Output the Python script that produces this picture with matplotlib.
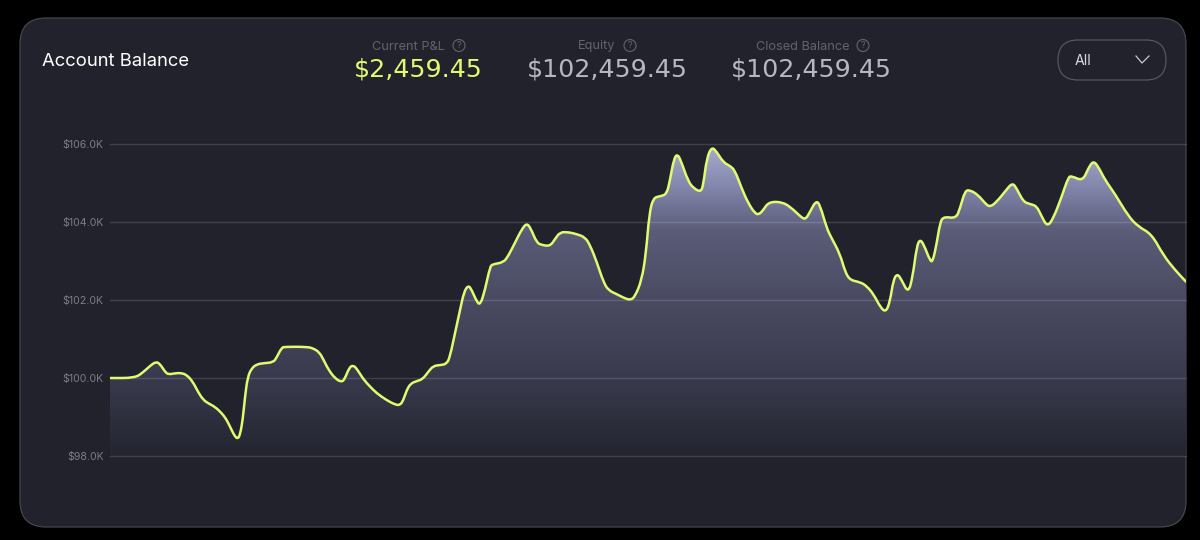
import matplotlib
matplotlib.use('Agg')
import matplotlib.pyplot as plt
import numpy as np
from matplotlib.colors import LinearSegmentedColormap
from matplotlib.patches import Circle, FancyBboxPatch, PathPatch
from matplotlib.path import Path

plt.rcParams['font.family'] = ['Inter', 'DejaVu Sans']

# values, balance in thousands of dollars
steps = [
    0, 25, 33.3, 40, 46, 50, 55, 58.3, 65, 71, 76.7, 82.7, 88.3, 93.3, 98.3, 105, 111.7, 116.7,
    121.7, 125, 127.7, 130, 132.7, 135, 137.7, 141.7, 146.7, 153.3, 163.3, 166.7, 171.7, 175,
    196.7, 203.3, 209.3, 213.3, 218.3, 225, 231.7, 235, 239.3, 243.3, 247.3, 253.3, 260, 266.7,
    276.7, 285, 290, 293.3, 296.7, 300.7, 306.7, 312.7, 318.3, 323.3, 330, 336.7, 340, 345, 350,
    354, 358.3, 361.7, 366.7, 370.3, 375, 380, 382.7, 393.3, 398.3, 405, 411.7, 416.7, 420.7,
    426.7, 431.7, 440, 445, 450, 458.3, 466.7, 475, 480, 486.7, 493.3, 498.3, 506.7, 515, 520.7,
    525, 531.7, 536, 539.3, 543.3, 550, 556.7, 560, 564, 567.3, 570.7, 578.3, 584, 590.7, 593.3,
    596.7, 601.7, 606.7, 613.3, 620, 625, 631.7, 638.3, 645, 649, 653.3, 659, 673.3, 683.3, 691.7,
    695.7, 700, 706, 710, 716.7, 721.7, 730, 735, 740, 750, 756.7, 764, 770, 775.7, 780, 783.3,
    787.3, 791.7, 798.3, 802.7, 806.7, 810, 814, 820, 822.7, 826.7, 830, 833.3, 846, 850, 855,
    860, 868.3, 875, 880, 886.7, 895, 902.3, 906.7, 913.3, 920, 926.7, 931.7, 937.3, 943.3, 951.7,
    958.3, 961.7, 972.7, 978.3, 983.3, 988.3, 995, 1005, 1018.3, 1028.3, 1041.7, 1053.3, 1065, 1076,
]
balance = [
    100.00, 100.00, 100.15, 100.31, 100.42, 100.36, 100.16, 100.09, 100.12, 100.13, 100.08, 99.91,
    99.63, 99.44, 99.35, 99.26, 99.10, 98.93, 98.66, 98.50, 98.44, 98.54, 98.92, 99.52, 100.03,
    100.25, 100.35, 100.38, 100.40, 100.53, 100.78, 100.80, 100.80, 100.76, 100.66, 100.48, 100.22,
    99.99, 99.89, 99.99, 100.27, 100.33, 100.22, 99.97, 99.78, 99.61, 99.43, 99.32, 99.30, 99.43,
    99.69, 99.86, 99.92, 99.97, 100.16, 100.31, 100.33, 100.36, 100.55, 101.15, 101.74, 102.21,
    102.38, 102.26, 101.96, 101.87, 102.26, 102.85, 102.92, 102.96, 103.13, 103.47, 103.81, 103.97,
    103.84, 103.47, 103.41, 103.38, 103.56, 103.74, 103.74, 103.69, 103.61, 103.41, 102.98, 102.47,
    102.25, 102.15, 102.04, 102.00, 102.09, 102.51, 103.20, 104.22, 104.62, 104.66, 104.71, 105.08,
    105.63, 105.74, 105.59, 105.03, 104.86, 104.77, 104.95, 105.63, 105.93, 105.80, 105.53, 105.44,
    105.32, 104.86, 104.48, 104.22, 104.19, 104.31, 104.52, 104.51, 104.32, 104.11, 104.07, 104.26,
    104.55, 104.44, 103.84, 103.58, 103.18, 102.73, 102.51, 102.46, 102.36, 102.13, 101.83, 101.68,
    101.96, 102.51, 102.68, 102.51, 102.17, 102.60, 103.37, 103.56, 103.41, 103.01, 102.98, 103.45,
    103.97, 104.14, 104.09, 104.35, 104.80, 104.82, 104.69, 104.48, 104.38, 104.52, 104.78, 105.01,
    104.86, 104.52, 104.46, 104.41, 104.14, 103.88, 104.09, 104.65, 105.15, 105.18, 105.05, 105.38,
    105.57, 105.42, 105.08, 104.72, 104.15, 103.88, 103.69, 103.15, 102.77, 102.47,
]
tick_values = [98, 100, 102, 104, 106]
tick_labels = ['$98.0K', '$100.0K', '$102.0K', '$104.0K', '$106.0K']

stat_names = ['Current P&L', 'Equity', 'Closed Balance']
stat_values = ['$2,459.45', '$102,459.45', '$102,459.45']

BG = '#21222c'
LIME = '#e0fb6f'

fig = plt.figure(figsize=(12, 5.4), dpi=100, facecolor='black')

# card and header are laid out in pixel coordinates
chrome = fig.add_axes([0, 0, 1, 1])
chrome.set_xlim(0, 1200)
chrome.set_ylim(540, 0)
chrome.axis('off')
chrome.add_patch(FancyBboxPatch((20, 18), 1166, 509, boxstyle='round,pad=0,rounding_size=26',
                                fc=BG, ec='#44454e', lw=0.9))
chrome.text(42, 61, 'Account Balance', color='white', fontsize=13.3, va='center')

# stat blocks: label, help icon, big number
label_x = [372, 578, 756]
icon_x = [459, 630, 863]
value_x = [418, 607, 811]
value_colors = [LIME, '#b6b7bf', '#b6b7bf']
for i in range(3):
    chrome.text(label_x[i], 46.5, stat_names[i], color='#62636c', fontsize=9.2, va='center')
    chrome.add_patch(Circle((icon_x[i], 45.5), 6, fc='none', ec='#62636c', lw=0.8))
    chrome.text(icon_x[i], 46, '?', color='#62636c', fontsize=6.5, ha='center', va='center')
    # DejaVu has the same wide even digits as the original face
    chrome.text(value_x[i], 69.5, stat_values[i], color=value_colors[i], fontsize=18.2,
                family='DejaVu Sans', ha='center', va='center')

# range selector
chrome.add_patch(FancyBboxPatch((1058, 40), 108, 40, boxstyle='round,pad=0,rounding_size=20',
                                fc='none', ec='#55565f', lw=0.9))
chrome.text(1075, 61, 'All', color='#d8d8dc', fontsize=10.2, va='center')
chrome.plot([1136, 1142, 1149], [56, 63, 56], color='#c8c8cd', lw=0.9)

# chart axes: $106K at y=144, $98K at y=456
ax = fig.add_axes([110 / 1200, 1 - 456 / 540, 1076 / 1200, 312 / 540])
ax.patch.set_visible(False)
ax.set_xlim(0, 1076)
ax.set_ylim(98, 106)
for side in ax.spines.values():
    side.set_visible(False)
ax.set_xticks([])
ax.set_yticks(tick_values)
ax.set_yticklabels(tick_labels)
ax.tick_params(axis='y', length=0, pad=4.5, labelsize=7.6, labelcolor='#7c7d85')
ax.grid(axis='y', color='white', alpha=0.14, lw=1, zorder=2)
ax.set_axisbelow(False)
for gl in ax.get_ygridlines():
    gl.set_clip_on(False)

# smooth curve: quadratic segments through the midpoints of the read points
pts = np.column_stack([steps, balance])
mids = (pts[:-1] + pts[1:]) / 2
verts = [pts[0], mids[0]]
codes = [Path.MOVETO, Path.LINETO]
for p, m in zip(pts[1:-1], mids[1:]):
    verts += [p, m]
    codes += [Path.CURVE3, Path.CURVE3]
verts.append(pts[-1])
codes.append(Path.LINETO)
line_path = Path(verts, codes)

fill_path = Path(verts + [[steps[-1], 98], [steps[0], 98], [steps[0], balance[0]]],
                 codes + [Path.LINETO, Path.LINETO, Path.LINETO])

# area fades from pale lavender at the top down to the card colour
cmap = LinearSegmentedColormap.from_list('area', [
    (0.0, '#242530'), (0.25, '#393a4d'), (0.5, '#4a4b62'), (0.72, '#5a5c78'),
    (0.85, '#7f82a7'), (1.0, '#a9add2'),
])
grad = np.linspace(0, 1, 256).reshape(-1, 1)
img = ax.imshow(grad, origin='lower', extent=[0, 1076, 98, 106], aspect='auto', cmap=cmap, zorder=1)
clip = PathPatch(fill_path, transform=ax.transData, fc='none', ec='none')
ax.add_patch(clip)
img.set_clip_path(clip)

ax.add_patch(PathPatch(line_path, fc='none', ec=LIME, lw=1.8, capstyle='round',
                       joinstyle='round', zorder=3))

fig.savefig('out.png', dpi=100, facecolor='black')
